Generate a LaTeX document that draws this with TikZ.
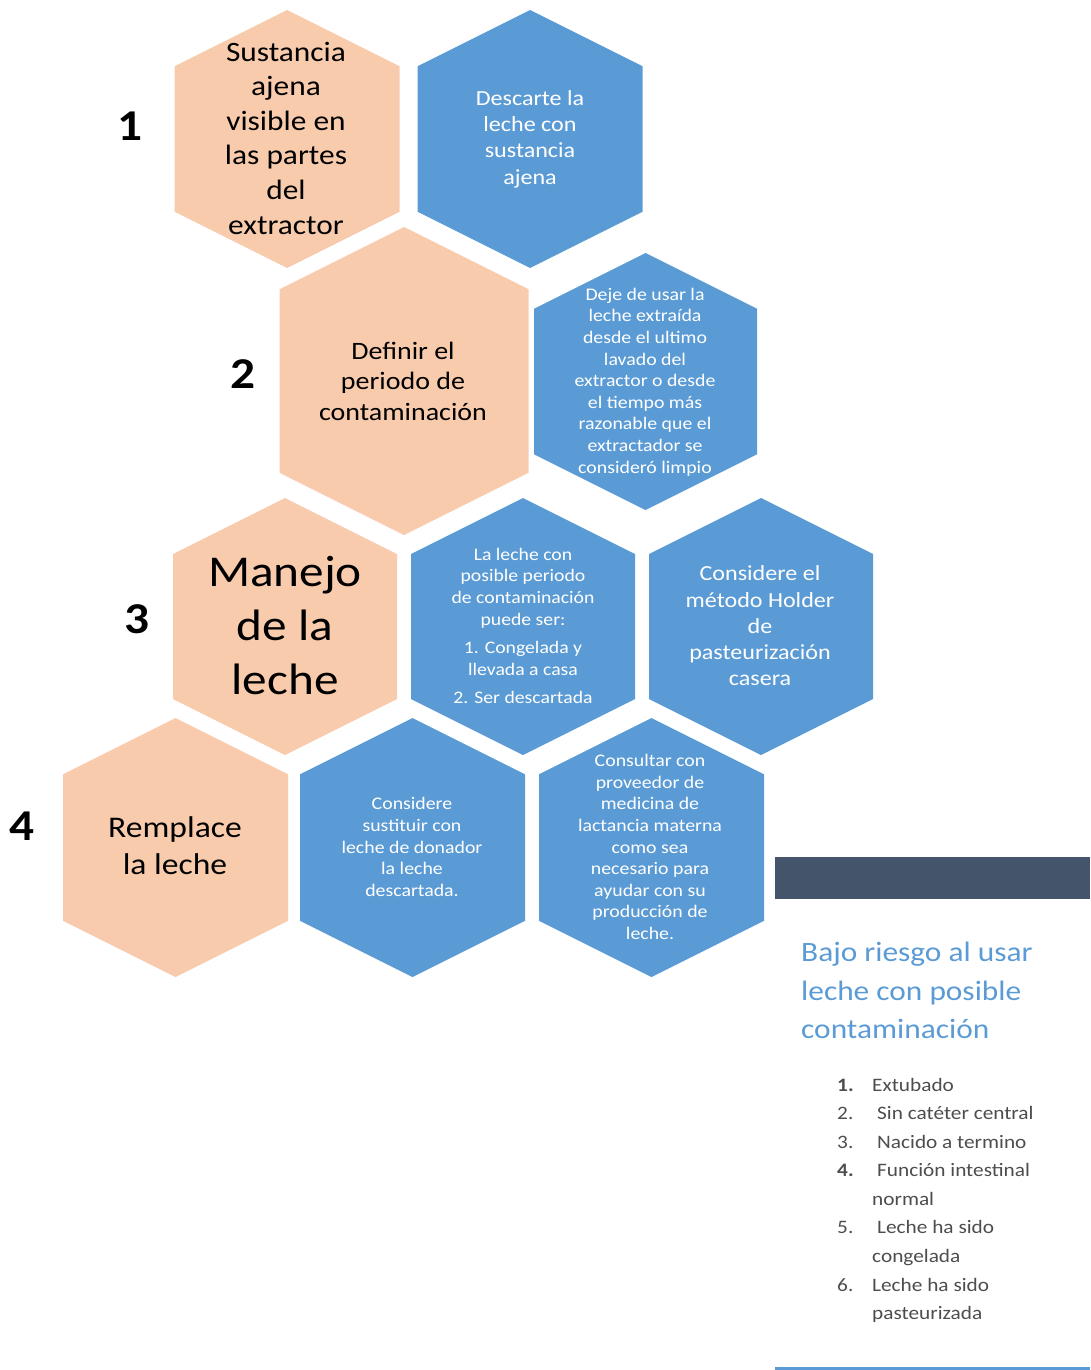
\documentclass[tikz,border=0pt]{standalone}
\usepackage{fontspec}
\setmainfont[FakeStretch=1.12]{Carlito}
\definecolor{hexorange}{HTML}{F8CBAD}
\definecolor{hexblue}{HTML}{5B9BD5}
\definecolor{bardark}{HTML}{44546A}
\definecolor{listgray}{HTML}{4D4D4D}
\definecolor{titleblue}{HTML}{5B9BD5}
\newcommand\hexcell[5]{% cx cy halfwidth halfheight style
  \fill[#5] (#1,#2-#4) -- (#1+#3,#2-#4+0.5*#3) -- (#1+#3,#2+#4-0.5*#3) -- (#1,#2+#4)
    -- (#1-#3,#2+#4-0.5*#3) -- (#1-#3,#2-#4+0.5*#3) -- cycle;}
\tikzset{
  orangehex/.style={fill=hexorange},
  bluehex/.style={fill=hexblue},
  darktext/.style={text=black, align=center, inner sep=0pt},
  lighttext/.style={text=white, align=center, inner sep=0pt},
  stepnum/.style={font=\fontsize{44}{50}\selectfont\bfseries, text=black, inner sep=0pt},
  listitem/.style={anchor=base west, inner sep=0pt, text=listgray, font=\fontsize{19}{23}\selectfont},
  listnum/.style={listitem},
  titleline/.style={anchor=base west, inner sep=0pt, text=titleblue, font=\fontsize{28}{38}\selectfont},
}
\begin{document}
\begin{tikzpicture}[x=1pt,y=-1pt]
\useasboundingbox (0,0) rectangle (1090,1370);
% row 1
\hexcell{287}{139}{112.5}{129}{orangehex}
\hexcell{530}{139}{112.5}{129}{bluehex}
% row 2
\hexcell{404}{381}{124.5}{154}{orangehex}
\hexcell{645.5}{381.5}{111.5}{128.5}{bluehex}
% row 3
\hexcell{285}{626.5}{112}{128.5}{orangehex}
\hexcell{523}{626.5}{112}{128.5}{bluehex}
\hexcell{761}{626.5}{112}{128.5}{bluehex}
% row 4
\hexcell{175.5}{847.5}{112.5}{129.5}{orangehex}
\hexcell{412.5}{847.5}{112.5}{129.5}{bluehex}
\hexcell{651.5}{847.5}{112.5}{129.5}{bluehex}

% texts
\node[darktext, font=\fontsize{28}{34.6}\selectfont] (ta) at (286,138) {Sustancia\\ajena\\visible en\\las partes\\del\\extractor};
\node[lighttext, font=\fontsize{21.5}{26.3}\selectfont] (tb) at (530,139) {Descarte la\\leche con\\sustancia\\ajena};
\node[darktext, font=\fontsize{25}{30.5}\selectfont] (tc) at (403,381) {Definir el\\periodo de\\contaminación};
\node[lighttext, font=\fontsize{17.7}{21.6}\selectfont] (td) at (645,382) {Deje de usar la\\leche extraída\\desde el ultimo\\lavado del\\extractor o desde\\el tiempo más\\razonable que el\\extractador se\\consideró limpio};
\node[darktext, font=\fontsize{44}{54}\selectfont] (te) at (285,626) {Manejo\\de la\\leche};
\node[lighttext, font=\fontsize{17.6}{21.6}\selectfont] (tf) at (523,626) {La leche con\\posible periodo\\de contaminación\\puede ser:\\[7pt]1. Congelada y\\llevada a casa\\[7pt]2. Ser descartada};
\node[lighttext, font=\fontsize{21.5}{26.2}\selectfont] (tg) at (760,626) {Considere el\\método Holder\\de\\pasteurización\\casera};
\node[darktext, font=\fontsize{30}{37}\selectfont] (th) at (175,846) {Remplace\\la leche};
\node[lighttext, font=\fontsize{17.7}{21.7}\selectfont] (ti) at (412,847) {Considere\\sustituir con\\leche de donador\\la leche\\descartada.};
\node[lighttext, font=\fontsize{17.7}{21.6}\selectfont] (tj) at (650,847) {Consultar con\\proveedor de\\medicina de\\lactancia materna\\como sea\\necesario para\\ayudar con su\\producción de\\leche.};

% step numbers
\node[stepnum] (n1) at (130,126) {1};
\node[stepnum] (n2) at (243,374) {2};
\node[stepnum] (n3) at (137,619) {3};
\node[stepnum] (n4) at (22,826) {4};

% side panel
\fill[bardark] (775,857) rectangle (1090,899);
\fill[hexblue] (775,1366.5) rectangle (1090,1370);
\node[titleline] (t1) at (801,961) {Bajo riesgo al usar};
\node[titleline] (t2) at (801,1000) {leche con posible};
\node[titleline] (t3) at (801,1038) {contaminación};

\node[listnum, font=\fontsize{19}{23}\selectfont\bfseries] (l1n) at (837,1091) {1.};
\node[listitem] (l1) at (872,1091) {Extubado};
\node[listnum] (l2n) at (837,1119) {2.};
\node[listitem] (l2) at (877,1119) {Sin catéter central};
\node[listnum] (l3n) at (837,1148) {3.};
\node[listitem] (l3) at (877,1148) {Nacido a termino};
\node[listnum, font=\fontsize{19}{23}\selectfont\bfseries] (l4n) at (837,1176) {4.};
\node[listitem] (l4) at (877,1176) {Función intestinal};
\node[listitem] (l4b) at (872,1205) {normal};
\node[listnum] (l5n) at (837,1233) {5.};
\node[listitem] (l5) at (877,1233) {Leche ha sido};
\node[listitem] (l5b) at (872,1262) {congelada};
\node[listnum] (l6n) at (837,1291) {6.};
\node[listitem] (l6) at (872,1291) {Leche ha sido};
\node[listitem] (l6b) at (872,1319) {pasteurizada};
\end{tikzpicture}
\end{document}
